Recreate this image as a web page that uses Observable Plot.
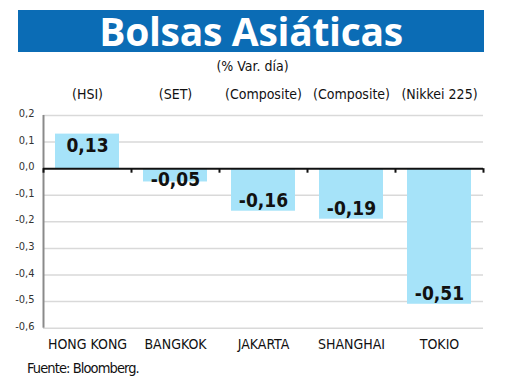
<!DOCTYPE html>
<html><head><meta charset="utf-8">
<script src="https://cdn.jsdelivr.net/npm/d3@7"></script>
<script src="https://cdn.jsdelivr.net/npm/@observablehq/plot@0.6"></script>
<style>
body{margin:0;background:#fff;width:520px;height:390px;overflow:hidden;font-family:"DejaVu Sans Condensed","Liberation Sans",sans-serif;}
#wrap{position:relative;width:520px;height:390px;}
#title{position:absolute;left:18px;top:10px;width:466px;height:42px;background:#0b6cb5;color:#fff;font-family:"Open Sans","Liberation Sans",sans-serif;font-weight:700;font-size:39px;line-height:42px;text-align:center;letter-spacing:-0.3px;}
#sub{position:absolute;left:0;width:505px;top:59px;line-height:14px;text-align:center;font-size:14px;color:#111;}
#chart{position:absolute;left:0;top:72px;}
#foot{position:absolute;left:27px;top:360px;line-height:16px;font-size:14.5px;color:#111;letter-spacing:-0.9px;}
</style></head>
<body><div id="wrap">
<div id="title">Bolsas Asiáticas</div>
<div id="sub">(% Var. día)</div>
<div id="chart"></div>
<div id="foot">Fuente: Bloomberg.</div>
</div>
<script>
const markets = ["HONG KONG","BANGKOK","JAKARTA","SHANGHAI","TOKIO"];
const indices = ["(HSI)","(SET)","(Composite)","(Composite)","(Nikkei 225)"];
const values = [0.13,-0.05,-0.16,-0.19,-0.51];
const yTicks = [0.2,0.1,0,-0.1,-0.2,-0.3,-0.4,-0.5,-0.6];

const data = markets.map((m,i)=>({market:m, index:indices[i], value:values[i]}));
const W = 520, ML = 43, MR = 37;
const bw = (W - ML - MR) / markets.length;
const idxOf = Object.fromEntries(markets.map((m,i)=>[m, indices[i]]));
const comma = (d, n) => d.toFixed(n).replace(".", ",");
const font = '"DejaVu Sans Condensed","Liberation Sans",sans-serif';

const chart = Plot.plot({
  width: W, height: 290,
  marginLeft: ML, marginRight: MR, marginTop: 43, marginBottom: 34.3,
  style: {fontFamily: font, background: "transparent"},
  x: {domain: markets, padding: 0, label: null},
  y: {type: "linear", domain: [-0.6, 0.2], label: null},
  marks: [
    Plot.ruleY(yTicks.filter(d => d !== 0), {stroke: "#d9d9d9", strokeWidth: 1.5}),
    Plot.barY(data, {x: "market", y: "value", fill: "#a6e3f9", insetLeft: 12, insetRight: 12}),
    Plot.ruleX([markets[0]], {x: d => d, y1: 0.2, y2: -0.6, dx: -bw/2, stroke: "#8a8a8a", strokeWidth: 2}),
    Plot.ruleY([0], {stroke: "#111", strokeWidth: 2}),
    Plot.ruleX(markets, {x: d => d, y1: 0, y2: -0.017, dx: -bw/2, stroke: "#111", strokeWidth: 2}),
    Plot.ruleX([markets[markets.length-1]], {x: d => d, y1: 0, y2: -0.017, dx: bw/2, stroke: "#111", strokeWidth: 2}),
    Plot.axisY(yTicks, {tickSize: 0, tickPadding: 9, tickFormat: d => comma(d, 1), fontSize: 11, fill: "#333", dy: -2, label: null}),
    Plot.axisX({anchor: "bottom", tickSize: 0, tickPadding: 11, fontSize: 14, fill: "#111", label: null}),
    Plot.axisX({anchor: "top", tickSize: 0, tickPadding: 17, fontSize: 14, fill: "#111", tickFormat: d => idxOf[d], label: null}),
    Plot.text(data.filter(d => d.value >= 0), {x: "market", y: "value", text: d => comma(d.value, 2), dy: 12, fontSize: 19, fontWeight: "bold", fill: "#111", style: "letter-spacing:-0.5px"}),
    Plot.text(data.filter(d => d.value < 0), {x: "market", y: d => Math.min(d.value, -0.08), text: d => comma(d.value, 2), dy: -10, fontSize: 19, fontWeight: "bold", fill: "#111"})
  ]
});
document.getElementById("chart").append(chart);
</script></body></html>
